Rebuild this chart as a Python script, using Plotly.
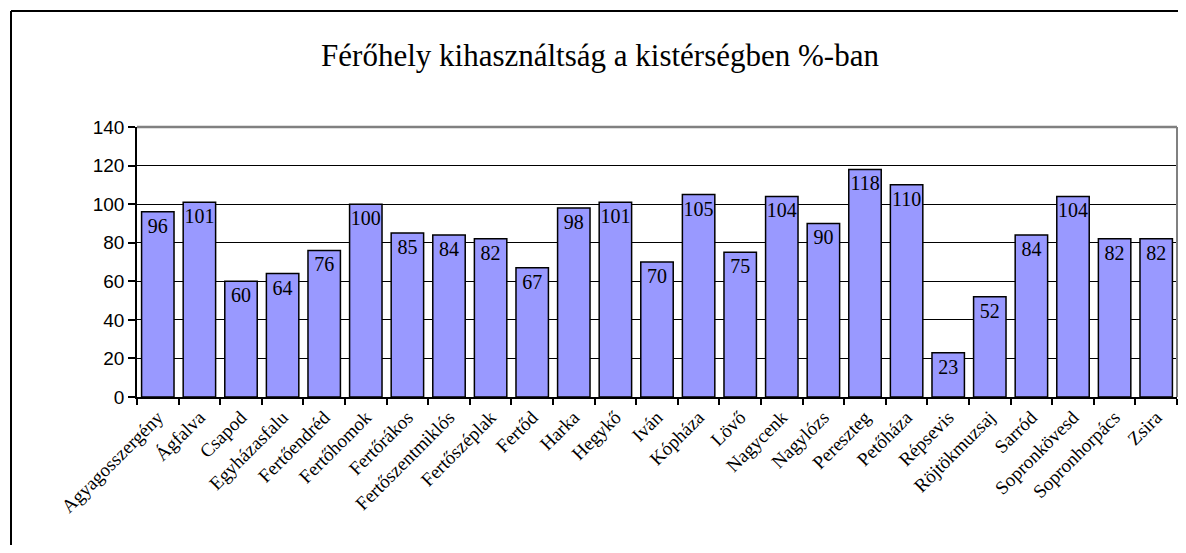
import plotly.graph_objects as go

categories = ["Agyagosszergény", "Ágfalva", "Csapod", "Egyházasfalu", "Fertőendréd",
              "Fertőhomok", "Fertőrákos", "Fertőszentmiklós", "Fertőszéplak", "Fertőd",
              "Harka", "Hegykő", "Iván", "Kópháza", "Lövő", "Nagycenk", "Nagylózs",
              "Pereszteg", "Petőháza", "Répsevis", "Röjtökmuzsaj", "Sarród",
              "Sopronkövesd", "Sopronhorpács", "Zsira"]
values = [96, 101, 60, 64, 76, 100, 85, 84, 82, 67, 98, 101, 70, 105, 75, 104, 90,
          118, 110, 23, 52, 84, 104, 82, 82]
y_ticks = [0, 20, 40, 60, 80, 100, 120, 140]
title_text = "Férőhely kihasználtság a kistérségben %-ban"

# page has an 8px body margin on every side; keep the figure inside the window
O = 8
W, H = 1186 - 2 * O, 553 - 2 * O
L = 137 - O
T = 127 - O
R = 1
B = H - (397 - O)
pw, ph = W - L - R, H - T - B


def px(x):
    return (x - O - L) / pw


def py(y):
    return (H - B - (y - O)) / ph


fig = go.Figure(go.Bar(
    x=categories, y=values,
    marker=dict(color="#9999FF", line=dict(color="black", width=1.5)),
    text=[str(v) for v in values],
    textposition="inside", insidetextanchor="end", constraintext="none",
    textfont=dict(family="Liberation Serif", size=20, color="black"),
    textangle=0,
))

fig.update_layout(
    width=W, height=H,
    margin=dict(l=L, r=R, t=T, b=B),
    paper_bgcolor="white", plot_bgcolor="white",
    bargap=0.22,
    showlegend=False,
    title=dict(text=title_text, x=(600 - O) / W, xref="container", xanchor="center",
               y=1 - (55 - O) / H, yref="container", yanchor="middle",
               font=dict(family="Liberation Serif", size=31, color="black")),
    xaxis=dict(type="category", tickson="boundaries", ticks="outside", ticklen=6,
               tickcolor="black", tickwidth=1.5, showline=True, linecolor="black",
               linewidth=1.5, tickangle=-45, showgrid=False,
               tickfont=dict(family="Liberation Serif", size=19, color="black")),
    yaxis=dict(range=[0, 140], tickvals=y_ticks, ticks="outside", ticklen=7,
               tickcolor="black", tickwidth=1.5, showline=True, linecolor="black",
               linewidth=1.5, showgrid=True, gridcolor="black", gridwidth=1,
               zeroline=False,
               tickfont=dict(family="Liberation Sans", size=19, color="black")),
    shapes=[
        dict(type="line", xref="paper", yref="paper", x0=0, x1=1, y0=1, y1=1,
             line=dict(color="#808080", width=2.5), layer="above"),
        dict(type="line", xref="paper", yref="paper", x0=1, x1=1, y0=0, y1=1,
             line=dict(color="#808080", width=2), layer="above"),
        dict(type="line", xref="paper", yref="paper",
             x0=px(11), x1=px(1186), y0=py(11), y1=py(11),
             line=dict(color="black", width=2), layer="above"),
        dict(type="line", xref="paper", yref="paper",
             x0=px(11), x1=px(11), y0=py(11), y1=py(553),
             line=dict(color="black", width=2), layer="above"),
    ],
)

fig.write_html("out.html")
